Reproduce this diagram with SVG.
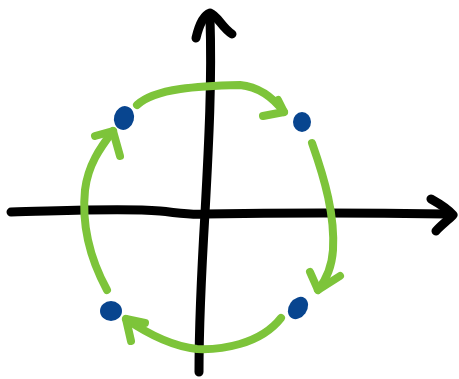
<svg xmlns="http://www.w3.org/2000/svg" width="459" height="379" viewBox="0 0 459 379">
<style>
.axis{fill:none;stroke:#000;stroke-width:9;stroke-linecap:round;stroke-linejoin:round}
.arc{fill:none;stroke:#7dc43a;stroke-width:8;stroke-linecap:round;stroke-linejoin:round}
.dot{fill:#08458f}
</style>
<rect width="459" height="379" fill="#fff"/>
<g id="axes">
<path class="axis" d="M11,212 C60,211 120,208 160,211 C180,213 190,215 205,214 C260,213 330,212 446,214"/>
<path class="axis" d="M431,199 C440,204 448,209 453,215 C447,221 440,226 436,231"/>
<path class="axis" d="M210,18 C212,80 209,140 205,213 C201,280 199,330 199,372"/>
<path class="axis" d="M196,38 C199,25 204,15 210,13 C218,16 222,28 232,34"/>
</g>
<g id="connectors">
<path class="arc" d="M137,105 C155,88 200,86 240,85 C260,87 275,100 284,112"/>
<path class="arc" d="M263,116 L284,112 L278,100"/>
<path class="arc" d="M312,143 C325,180 335,215 333,250 C332,265 326,280 318,290"/>
<path class="arc" d="M310,272 L318,290 L340,276"/>
<path class="arc" d="M281,318 C260,345 220,350 197,349 C170,346 145,332 126,319"/>
<path class="arc" d="M145,323 L126,319 L131,341"/>
<path class="arc" d="M107,290 C88,255 82,220 85,190 C88,165 100,148 113,131"/>
<path class="arc" d="M95,136 L113,131 L120,156"/>
</g>
<g id="p1"><ellipse class="dot" cx="124" cy="118" rx="10" ry="12" transform="rotate(15 124 118)"/></g>
<g id="p2"><ellipse class="dot" cx="302" cy="122" rx="9" ry="10"/></g>
<g id="p3"><ellipse class="dot" cx="298" cy="308" rx="9" ry="12" transform="rotate(35 298 308)"/></g>
<g id="p4"><ellipse class="dot" cx="111" cy="311" rx="11" ry="10"/></g>
</svg>
